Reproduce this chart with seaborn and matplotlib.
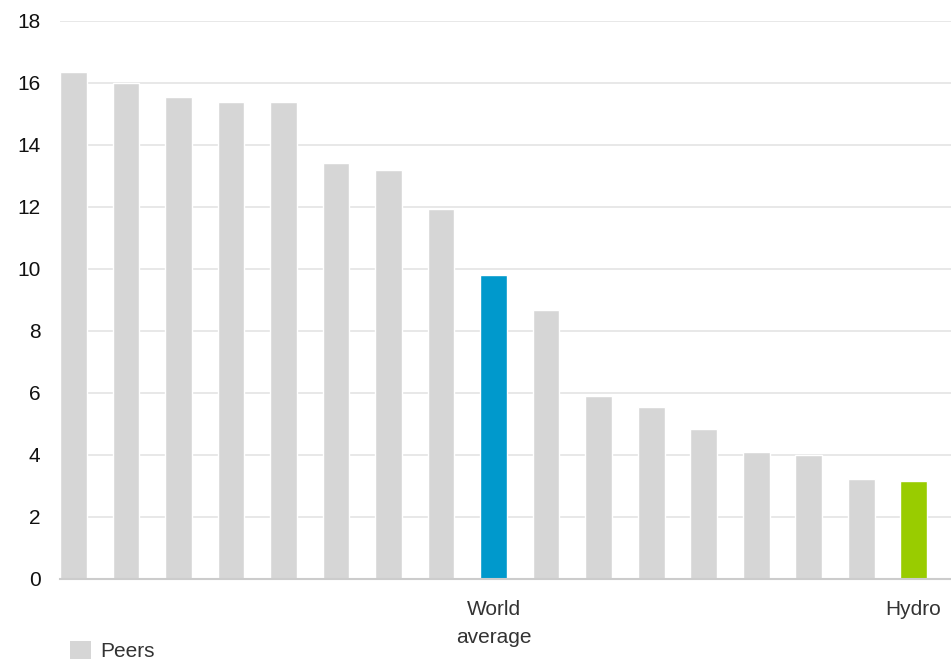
import matplotlib
matplotlib.use("Agg")
import matplotlib.pyplot as plt
import seaborn as sns
import pandas as pd
from matplotlib.patches import Patch

categories = ["P1", "P2", "P3", "P4", "P5", "P6", "P7", "P8", "World average",
              "P10", "P11", "P12", "P13", "P14", "P15", "P16", "Hydro"]
values = [16.35, 16.0, 15.55, 15.4, 15.4, 13.43, 13.2, 11.92, 9.8,
          8.67, 5.9, 5.55, 4.85, 4.1, 4.0, 3.23, 3.16]
groups = ["Peers"] * 8 + ["World average"] + ["Peers"] * 7 + ["Hydro"]
tick_labels = [""] * 8 + ["World\naverage"] + [""] * 7 + ["Hydro"]
yticks = [0, 2, 4, 6, 8, 10, 12, 14, 16, 18]
legend_labels = ["Peers"]

colors = {"Peers": "#d6d6d6", "World average": "#0099cc", "Hydro": "#99cc00"}

df = pd.DataFrame({"category": categories, "value": values, "group": groups})

sns.set_theme(style="white")
plt.rcParams["font.family"] = ["Liberation Sans", "DejaVu Sans"]

fig = plt.figure(figsize=(9.51, 6.65), dpi=100)
ax = fig.add_axes([60 / 951, 86 / 665, 1 - 60 / 951, (579 - 21) / 665])

sns.barplot(data=df, x="category", y="value", hue="group", order=categories,
            palette=colors, dodge=False, width=0.514, legend=False,
            saturation=1, ax=ax, zorder=3)

ax.set_xlim(-0.257, 16.714)
ax.set_ylim(0, 18)
ax.set_yticks(yticks)
ax.set_yticklabels([str(t) for t in yticks])
ax.set_xticks(range(len(categories)))
ax.set_xticklabels(tick_labels, linespacing=1.6)
ax.set_xlabel("")
ax.set_ylabel("")

ax.yaxis.grid(True, color="#e2e2e2", linewidth=1.1, zorder=0)
ax.set_axisbelow(True)
for s in ["left", "right", "top"]:
    ax.spines[s].set_visible(False)
ax.spines["bottom"].set_color("#cccccc")
ax.spines["bottom"].set_linewidth(1.5)
ax.spines["bottom"].set_zorder(4)

ax.tick_params(axis="y", length=0, pad=14, labelsize=15, labelcolor="#111111")
ax.tick_params(axis="x", length=0, pad=15, labelsize=15, labelcolor="#333333")

handles = [Patch(facecolor=colors["Peers"], edgecolor="none")]
fig.legend(handles, legend_labels, loc="lower left",
           bbox_to_anchor=(69 / 951, 0.004), frameon=False, fontsize=15,
           handlelength=1.0, handleheight=1.0, handletextpad=0.45,
           borderpad=0.05, borderaxespad=0.0, labelcolor="#333333")

fig.savefig("out.png", dpi=100)
